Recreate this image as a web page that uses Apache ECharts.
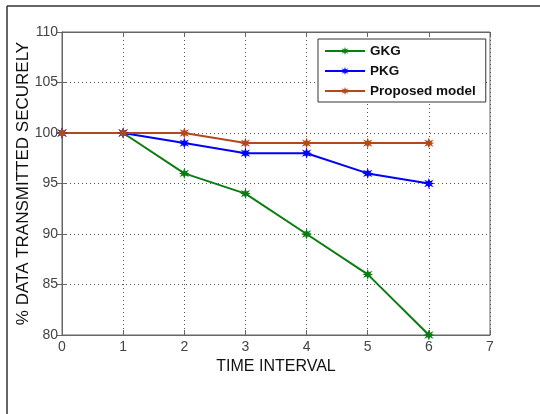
<!DOCTYPE html>
<html style="height:100%;width:100%">
<head>
<meta charset="UTF-8">
<title>Data transmitted securely</title>
<script src="https://cdn.jsdelivr.net/npm/echarts@6/dist/echarts.min.js"></script>
<style>
  body { margin:0; background:#fff; }
  #container { width:540px; height:414px; }
</style>
</head>
<body>
<div id="container"></div>
<script type="text/javascript">
// data
var timeSteps = [0, 1, 2, 3, 4, 5, 6];
var gkgValues = [100, 100, 96, 94, 90, 86, 80];
var pkgValues = [100, 100, 99, 98, 98, 96, 95];
var proposedValues = [100, 100, 100, 99, 99, 99, 99];
var seriesNames = ['GKG', 'PKG', 'Proposed model'];
var colorsList = ['#0a7d12', '#0000ff', '#b2491d'];

// chunky star marker, a bit like matlab's '*' after jpeg blur
var starSymbol = 'path://M5,0 L6.1,3 L9.3,1.7 L7.4,4.2 L10,5 L7.4,5.8 L9.3,8.3 L6.1,7 L5,10 L3.9,7 L0.7,8.3 L2.6,5.8 L0,5 L2.6,4.2 L0.7,1.7 L3.9,3 Z';

function pairs(ys) {
  var out = [];
  for (var i = 0; i < timeSteps.length; i++) out.push([timeSteps[i], ys[i]]);
  return out;
}

var dom = document.getElementById("container");
var myChart = echarts.init(dom, null, { renderer: 'canvas' });

var tickLabel = { color: '#444', fontFamily: 'Arial, Liberation Sans', fontSize: 14 };
var gridLine = { show: true, lineStyle: { color: '#555', type: [1, 3], width: 1 } };

function makeSeries(idx, values) {
  return {
    name: seriesNames[idx],
    type: 'line',
    data: pairs(values),
    symbol: starSymbol,
    symbolSize: 11,
    showAllSymbol: true,
    lineStyle: { color: colorsList[idx], width: 2 },
    itemStyle: { color: colorsList[idx] },
    animation: false
  };
}

var option = {
  backgroundColor: '#fff',
  textStyle: { fontFamily: 'Arial, Liberation Sans' },
  grid: { left: 62, top: 32, width: 428, height: 303, show: true, borderColor: '#666', borderWidth: 1 },
  legend: {
    data: seriesNames,
    orient: 'vertical',
    left: 318,
    top: 39,
    itemWidth: 40,
    itemHeight: 10,
    itemGap: 6,
    padding: [5, 10, 4, 6],
    borderColor: '#333',
    borderWidth: 1,
    backgroundColor: '#fff',
    textStyle: { fontFamily: 'Arial, Liberation Sans', fontWeight: 'bold', fontSize: 13.5, color: '#111' }
  },
  xAxis: [{
    type: 'value', min: 0, max: 7, interval: 1,
    name: 'TIME INTERVAL', nameLocation: 'middle', nameGap: 24,
    nameTextStyle: { fontFamily: 'Arial, Liberation Sans', fontSize: 16, color: '#111' },
    axisLine: { show: true, onZero: false, lineStyle: { color: '#666' } },
    axisTick: { show: true, inside: true, length: 5, lineStyle: { color: '#666' } },
    axisLabel: Object.assign({ margin: 5 }, tickLabel),
    splitLine: gridLine
  }, {
    type: 'value', min: 0, max: 7, interval: 1, position: 'top',
    axisLine: { show: true, lineStyle: { color: '#666' } },
    axisTick: { show: true, inside: true, length: 5, lineStyle: { color: '#666' } },
    axisLabel: { show: false }, splitLine: { show: false }
  }],
  yAxis: [{
    type: 'value', min: 80, max: 110, interval: 5,
    name: '% DATA TRANSMITTED SECURELY', nameLocation: 'middle', nameGap: 30,
    nameMoveOverlap: false,
    nameTextStyle: { fontFamily: 'Arial, Liberation Sans', fontSize: 17, color: '#111' },
    axisLine: { show: true, onZero: false, lineStyle: { color: '#666' } },
    axisTick: { show: true, inside: true, length: 5, lineStyle: { color: '#666' } },
    axisLabel: Object.assign({ margin: 4 }, tickLabel),
    splitLine: gridLine
  }, {
    type: 'value', min: 80, max: 110, interval: 5, position: 'right',
    axisLine: { show: true, lineStyle: { color: '#666' } },
    axisTick: { show: true, inside: true, length: 5, lineStyle: { color: '#666' } },
    axisLabel: { show: false }, splitLine: { show: false }
  }],
  series: [
    makeSeries(0, gkgValues),
    makeSeries(1, pkgValues),
    makeSeries(2, proposedValues)
  ],
  graphic: [
    { type: 'line', shape: { x1: 7, y1: 6, x2: 540, y2: 6 }, style: { stroke: '#333', lineWidth: 1.5 }, silent: true },
    { type: 'line', shape: { x1: 7, y1: 6, x2: 7, y2: 414 }, style: { stroke: '#333', lineWidth: 1.5 }, silent: true }
  ]
};

if (option && typeof option === "object") {
  myChart.setOption(option, true);
}
</script>
</body>
</html>
